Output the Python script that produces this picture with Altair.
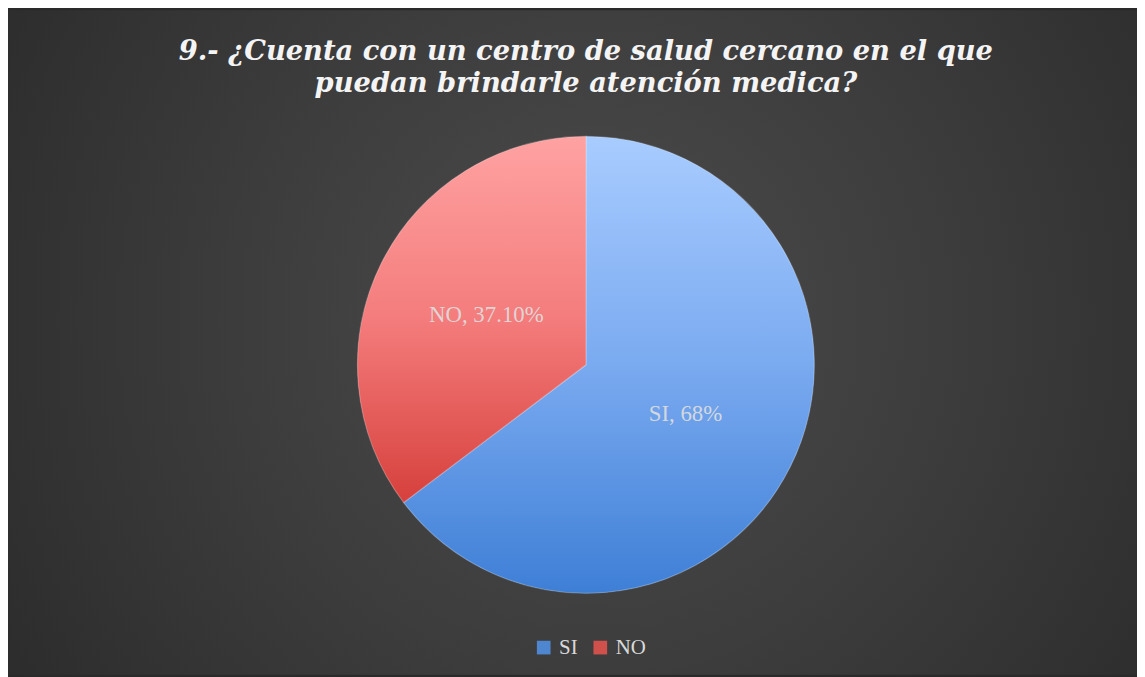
import altair as alt
import pandas as pd

categories = ["SI", "NO"]
values = [68, 37.1]
labels = ["SI, 68%", "NO, 37.10%"]

title_lines = ["9.- ¿Cuenta con un centro de salud cercano en el que",
               "puedan brindarle atención medica?"]

df = pd.DataFrame({"cat": categories, "value": values, "label": labels,
                   "order": [0, 1]})

W, H = 500, 500
PL, PR, PT, PB = 332, 305, 107, 62

bg_grad = alt.Gradient(
    gradient="radial",
    stops=[alt.GradientStop(color="#4c4c4c", offset=0),
           alt.GradientStop(color="#3c3c3c", offset=0.45),
           alt.GradientStop(color="#262626", offset=1)],
    x1=0.52, y1=0.48, r1=0, x2=0.52, y2=0.48, r2=0.72,
)
si_grad = alt.Gradient(
    gradient="linear",
    stops=[alt.GradientStop(color="#a8ccff", offset=0),
           alt.GradientStop(color="#7aaaf0", offset=0.5),
           alt.GradientStop(color="#3e7fd6", offset=1)],
    x1=0, y1=0, x2=0, y2=1,
)
no_grad = alt.Gradient(
    gradient="linear",
    stops=[alt.GradientStop(color="#ffa2a2", offset=0),
           alt.GradientStop(color="#f47c7c", offset=0.5),
           alt.GradientStop(color="#d6403c", offset=1)],
    x1=0, y1=0, x2=0, y2=1,
)

bg = alt.Chart(pd.DataFrame({"b": [0]})).mark_rect(fill=bg_grad, stroke=None).encode(
    x=alt.value(-PL), x2=alt.value(W + PR), y=alt.value(-PT), y2=alt.value(H + PB)
)

theta = alt.Theta("value:Q", stack=True)
order = alt.Order("order:Q")

base_arc = alt.Chart(df).mark_arc(radius=230).encode(
    theta=theta,
    order=order,
    color=alt.Color(
        "cat:N",
        scale=alt.Scale(domain=categories, range=["#4f86d0", "#d0504c"]),
        legend=alt.Legend(title=None, orient="none", legendX=197, legendY=524,
                          direction="horizontal"),
    ),
)

grad_arc = alt.Chart(df).mark_arc(radius=230, stroke="#ffffff", strokeOpacity=0.25,
                                  strokeWidth=1.2).encode(
    theta=theta,
    order=order,
    fill=alt.condition(alt.datum.cat == "SI", alt.value(si_grad), alt.value(no_grad)),
)

text = alt.Chart(df).mark_text(radius=112, font="Liberation Serif", fontSize=23,
                               color="#dedede", opacity=0.9).encode(
    theta=theta,
    order=order,
    text="label:N",
)

chart = alt.layer(bg, base_arc, grad_arc, text).properties(
    width=W, height=H,
    padding={"left": PL, "right": PR, "top": PT, "bottom": PB},
    autosize=alt.AutoSizeParams(type="none"),
    title=alt.TitleParams(
        text=title_lines, anchor="middle", font="DejaVu Serif", fontSize=27.5,
        fontWeight="bold", fontStyle="italic", color="#f4f4f4", lineHeight=32,
        offset=-88, frame="group",
    ),
).configure_view(stroke=None).configure(background="#2a2a2a").configure_legend(
    labelFont="Liberation Serif", labelFontSize=21, labelColor="#d9d9d9",
    symbolType="square", symbolSize=190, symbolStrokeWidth=0, columnPadding=12,
    labelOffset=5,
)

chart.save("out.html", embed_options={"renderer": "svg", "actions": False})
